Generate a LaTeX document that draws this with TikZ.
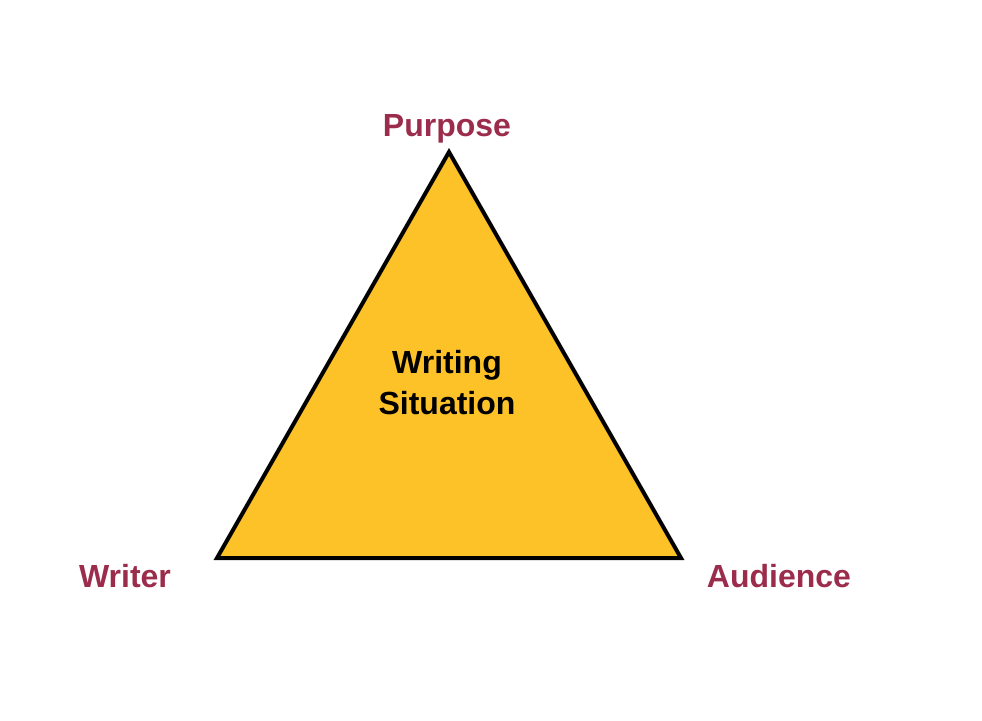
\documentclass[tikz,border=0pt]{standalone}
\usepackage{fontspec}
\setmainfont{Liberation Sans}
\definecolor{triyellow}{HTML}{FDC228}
\definecolor{labelred}{HTML}{9B2C4B}
\begin{document}
\begin{tikzpicture}[x=1pt,y=-1pt,
  corner/.style={font=\fontsize{32}{38}\selectfont\bfseries, text=labelred, anchor=base, inner sep=0pt},
  centre/.style={font=\fontsize{32}{41}\selectfont\bfseries, text=black, align=center, inner sep=0pt}]
  \useasboundingbox (0,0) rectangle (982,720);
  % triangle corners
  \coordinate (top) at (449,152);
  \coordinate (left) at (217,558);
  \coordinate (right) at (681,558);
  \filldraw[fill=triyellow, draw=black, line width=4pt, line join=miter]
    (top) -- (left) -- (right) -- cycle;
  % labels
  \node[corner] (purpose) at (447,136) {Purpose};
  \node[corner] (writer) at (125,587) {Writer};
  \node[corner] (audience) at (779,587) {Audience};
  \node[centre] (situation) at (447,383) {Writing\\Situation};
\end{tikzpicture}
\end{document}
